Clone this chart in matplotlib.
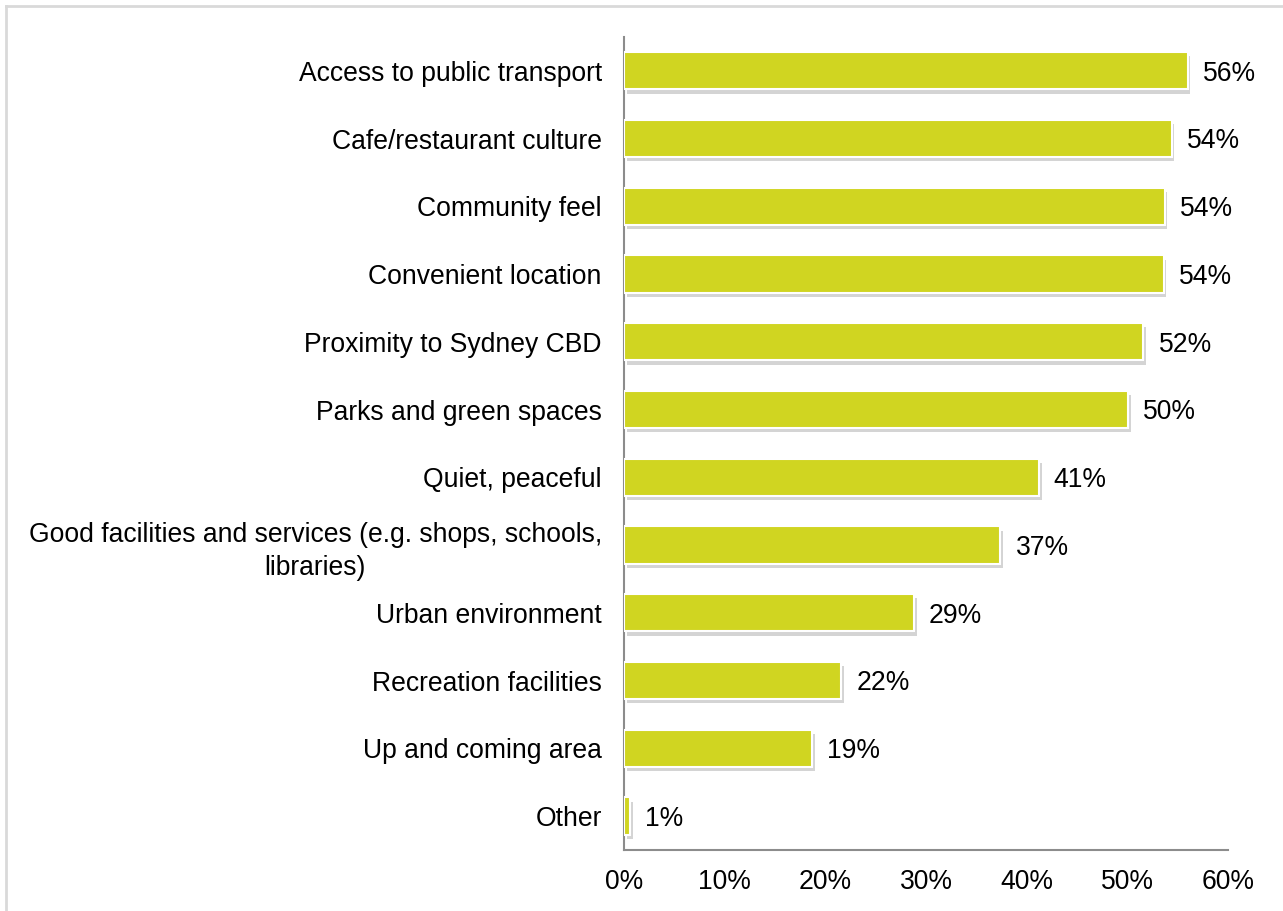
import numpy as np
import matplotlib
matplotlib.use('Agg')
import matplotlib.pyplot as plt
import matplotlib.patheffects as pe
from matplotlib.lines import Line2D

plt.rcParams['font.family'] = ['Liberation Sans', 'DejaVu Sans']

# reasons for living in the area (share of respondents, %)
categories = ['Access to public transport', 'Cafe/restaurant culture', 'Community feel',
              'Convenient location', 'Proximity to Sydney CBD', 'Parks and green spaces',
              'Quiet, peaceful', 'Good facilities and services (e.g. shops, schools,\nlibraries)',
              'Urban environment', 'Recreation facilities', 'Up and coming area', 'Other']
values = [56.0, 54.4, 53.7, 53.6, 51.6, 50.1, 41.2, 37.4, 28.8, 21.6, 18.7, 0.6]
xticks = [0, 10, 20, 30, 40, 50, 60]

bar_col = '#d0d521'
axis_col = '#8c8c8c'
fs = 19.1

fig = plt.figure(figsize=(12.83, 9.11), dpi=100)
ax = fig.add_axes([0.4864, 0.0670, 0.4707, 0.8924])

y = np.arange(len(categories))
bars = ax.barh(y, values, height=0.55, color=bar_col, edgecolor='white', linewidth=1.5,
               zorder=3)
for b in bars:
    b.set_path_effects([pe.SimplePatchShadow(offset=(2, -3), shadow_rgbFace='#a0a0a0', alpha=0.45),
                        pe.Normal()])

for yi, v in zip(y, values):
    ax.text(v + 1.5, yi + 0.04, f'{v:.0f}%', va='center', ha='left', fontsize=fs, color='black')

ax.set_ylim(len(categories) - 0.5, -0.5)
ax.set_xlim(0, 60)
ax.set_yticks(y)
ax.set_yticklabels(categories, fontsize=fs, ha='right', multialignment='center',
                   linespacing=1.35)
ax.tick_params(axis='y', length=0, pad=16)
ax.set_xticks(xticks)
ax.set_xticklabels([f'{t}%' for t in xticks], fontsize=fs)
ax.tick_params(axis='x', length=0, pad=14)

for s in ['top', 'right']:
    ax.spines[s].set_visible(False)
for s in ['left', 'bottom']:
    ax.spines[s].set_color(axis_col)
    ax.spines[s].set_linewidth(1.5)

# light frame around the chart area
fig.add_artist(Line2D([6 / 1283, 1], [1 - 6 / 911, 1 - 6 / 911], color='#d9d9d9', lw=2,
                      transform=fig.transFigure))
fig.add_artist(Line2D([6 / 1283, 6 / 1283], [0, 1 - 6 / 911], color='#d9d9d9', lw=2,
                      transform=fig.transFigure))

fig.savefig('out.png', dpi=100)
